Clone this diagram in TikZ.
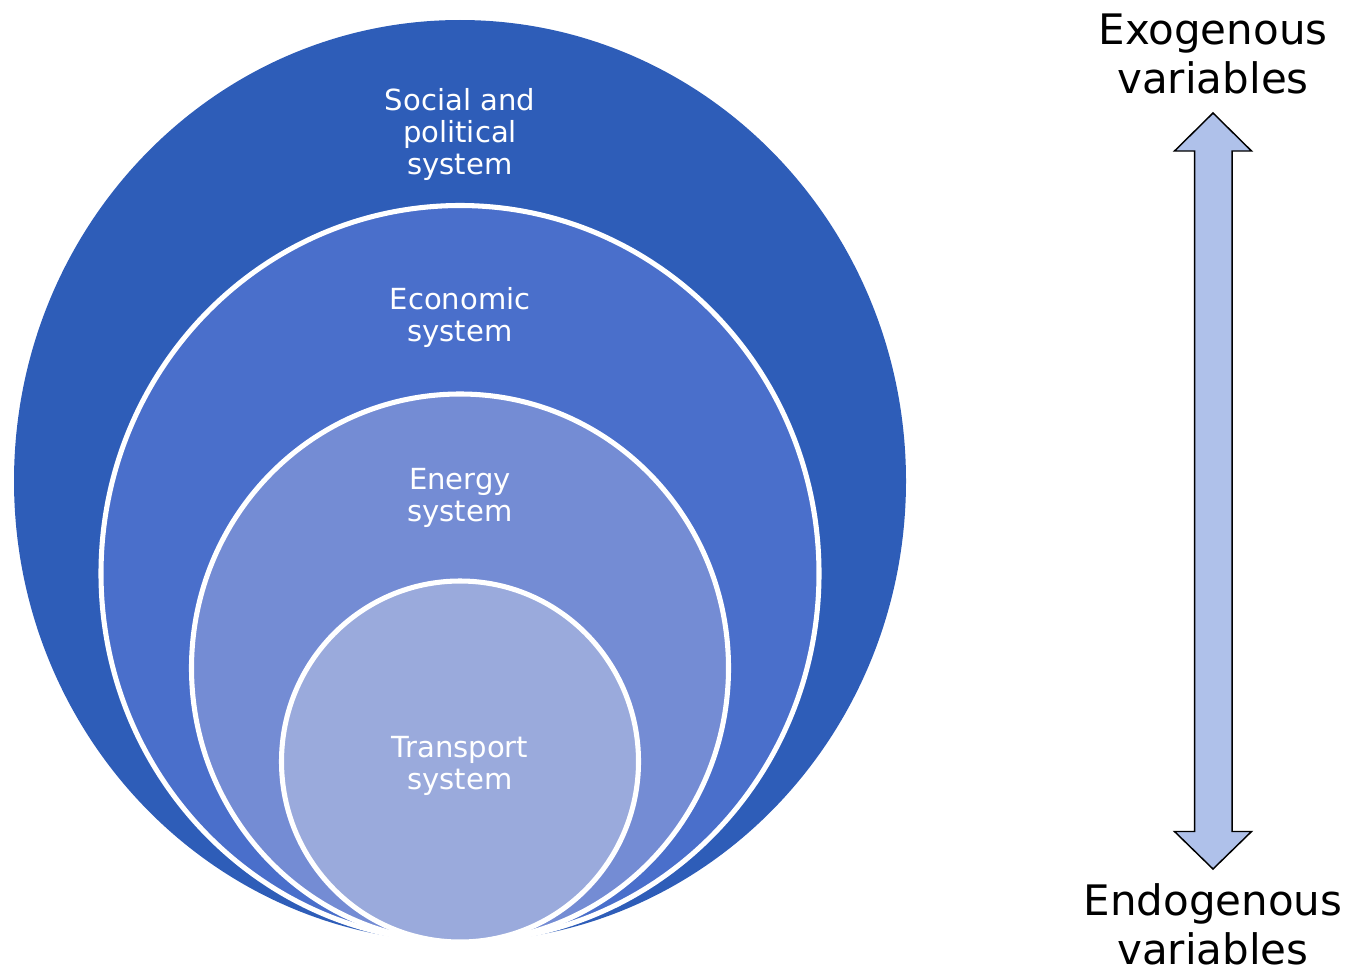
\documentclass[tikz,border=0pt]{standalone}
\usepackage{fontspec}
\setmainfont{DejaVu Sans}
\definecolor{socialblue}{HTML}{2E5DB8}
\definecolor{econblue}{HTML}{4A6FCB}
\definecolor{energyblue}{HTML}{748CD4}
\definecolor{transblue}{HTML}{9AAADC}
\definecolor{arrowblue}{HTML}{AFC1EA}
\tikzset{
  ring/.style={draw=white,line width=3.8pt},
  lbl/.style={text=white,align=center,inner sep=0pt,font=\fontsize{21.8}{24}\selectfont},
  side/.style={text=black,align=center,inner sep=0pt,font=\fontsize{31.5}{36.5}\selectfont}
}
\begin{document}
\begin{tikzpicture}[x=0.75pt,y=-0.75pt]
    \useasboundingbox (0,0) rectangle (1351,974);
    % nested systems, all touching at the bottom
    \begin{scope}
      \fill[socialblue] (460,481) ellipse [x radius=446,y radius=461];
      \filldraw[ring,fill=econblue] (460,573.5) ellipse [x radius=359,y radius=368];
      \filldraw[ring,fill=energyblue] (460,668) ellipse [x radius=268.5,y radius=274];
      \filldraw[ring,fill=transblue] (460,761.5) ellipse [x radius=178.5,y radius=180.5];
      \node[lbl] (social) at (460,134) {Social and\\political\\system};
      \node[lbl] (econ) at (460,317) {Economic\\system};
      \node[lbl] (energy) at (460,498) {Energy\\system};
      \node[lbl] (transport) at (460,766) {Transport\\system};
    \end{scope}
    % exogenous / endogenous scale
    \begin{scope}
      \node[side] (exo) at (1213,54) {Exogenous\\variables};
      \node[side] (endo) at (1213,924) {Endogenous\\variables};
      \draw[line width=1.1pt,fill=arrowblue,line join=miter]
        (1213,113) -- (1251.5,151) -- (1232,151) -- (1232,831.5)
        -- (1251.5,831.5) -- (1213,869) -- (1174.5,831.5) -- (1194.5,831.5)
        -- (1194.5,151) -- (1174.5,151) -- cycle;
    \end{scope}
\end{tikzpicture}
\end{document}
